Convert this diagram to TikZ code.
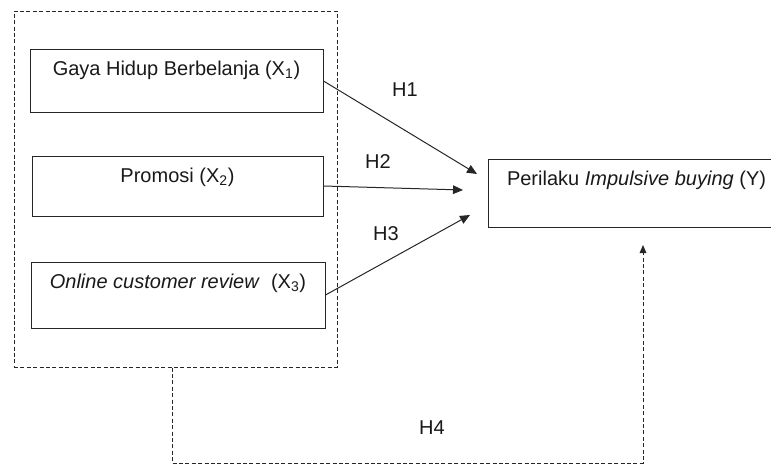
\documentclass[tikz,border=0pt]{standalone}
\usepackage{fontspec}
\setmainfont{Liberation Sans}
\usetikzlibrary{arrows.meta}

\begin{document}
\begin{tikzpicture}[x=0.75pt, y=-0.75pt,
    font=\fontsize{15pt}{18pt}\selectfont, text=black!90,
    varbox/.style={draw=black!85, line width=0.75pt, inner sep=0pt, text height=19.5pt},
    grpbox/.style={draw=black!85, line width=0.75pt, dash pattern=on 3pt off 1.8pt, inner sep=0pt},
    hyp/.style={draw=black!85, line width=0.75pt, -{Triangle[length=7.5pt,width=6.5pt]}},
    dashhyp/.style={draw=black!85, line width=0.75pt, dash pattern=on 3pt off 1.8pt, -{Triangle[length=6pt,width=5pt]}}]
    \path[use as bounding box, clip] (0,0) rectangle (771,464);

    \node[grpbox, minimum width=242.25pt, minimum height=267pt] (grp) at (175.5,189) {}; % X group
    \node[varbox, minimum width=219.75pt, text depth=27.75pt] (gaya) at (176.5,81) {Gaya Hidup Berbelanja (X\textsubscript{1})};
    \node[varbox, minimum width=218.25pt, text depth=25.5pt] (promo) at (177.5,186) {Promosi (X\textsubscript{2})};
    \node[varbox, minimum width=220.5pt, text depth=30pt] (review) at (178,295) {\textit{Online customer review}\ \ (X\textsubscript{3})};
    \node[varbox, minimum width=222.75pt, text depth=31.5pt] (impuls) at (636.5,193) {Perilaku \textit{Impulsive buying} (Y)};

    \coordinate (t1) at (477,174);
    \coordinate (t2) at (463,190);
    \coordinate (t3) at (470,215);
    \coordinate (t4) at (643,245);
    \coordinate (low) at (172,463);

    \draw[hyp] (gaya.east) -- (t1);
    \draw[hyp] (promo.east) -- (t2);
    \draw[hyp] (review.east) -- (t3);
    \draw[dashhyp] (grp.south -| low) -- (low) -| (t4); % simultaneous

    \node (h1) at (405,90) {H1};
    \node (h2) at (378,162) {H2};
    \node (h3) at (386,234) {H3};
    \node (h4) at (432,428) {H4};
  \end{tikzpicture}
\end{document}
